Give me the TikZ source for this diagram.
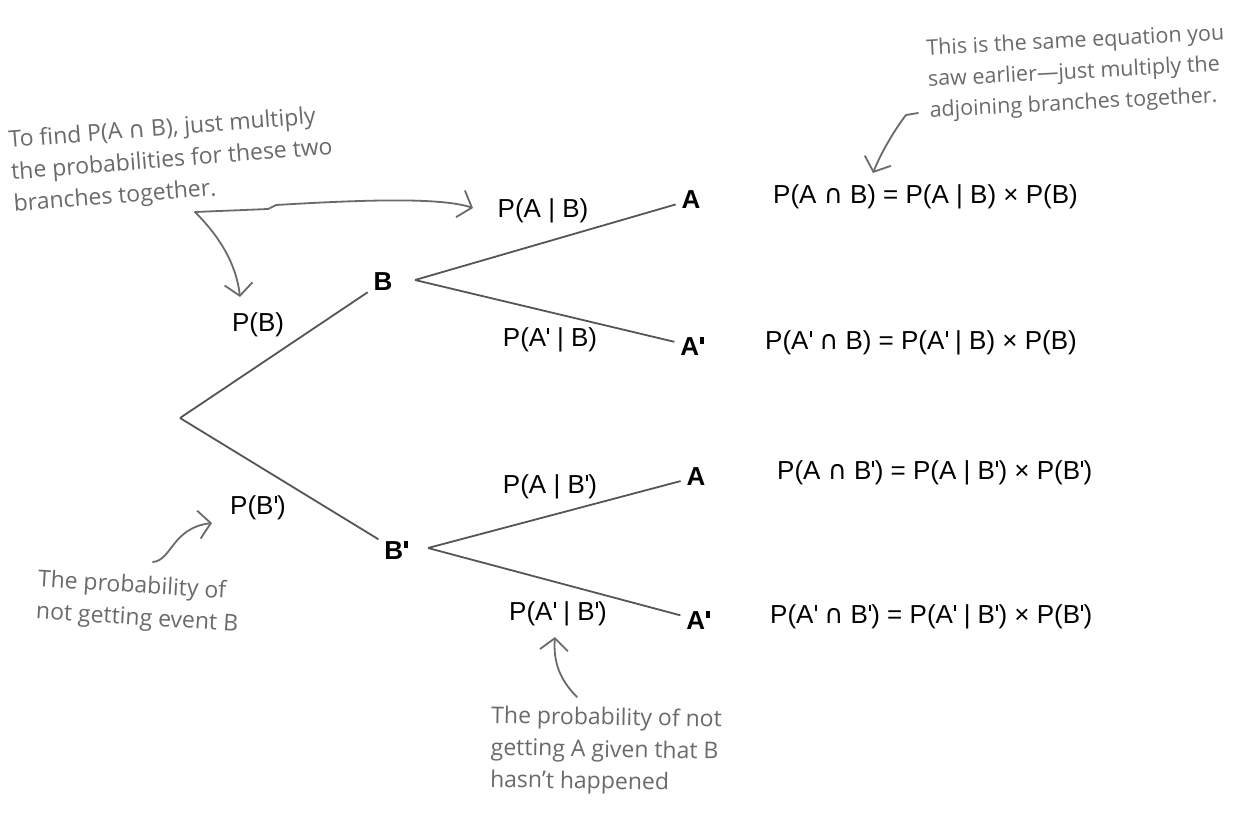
\documentclass[tikz,border=0pt]{standalone}
\usepackage{fontspec}
\setmainfont{Liberation Sans}
\newfontfamily\handfont{Open Sans}
\newfontfamily\symfont{DejaVu Sans}
\usetikzlibrary{arrows.meta}
\definecolor{treegray}{HTML}{555555}
\definecolor{notegray}{HTML}{6A6A6A}
\newcommand\pr{\kern0.04em\rule[0.47em]{0.075em}{0.25em}\kern0.02em}
\newcommand\bpr{\kern0.04em\rule[0.45em]{0.13em}{0.27em}}
\newcommand\capsym{{\symfont ∩}}
\begin{document}
\begin{tikzpicture}[x=1pt,y=-1pt,
  branch/.style={draw=treegray, line width=1.8pt},
  lab/.style={font=\fontsize{26}{30}\selectfont, inner sep=0pt},
  ev/.style={font=\fontsize{26}{30}\selectfont\bfseries, inner sep=0pt, outer sep=6pt},
  eq/.style={font=\fontsize{26}{30}\selectfont, inner sep=0pt, anchor=west},
  note/.style={font=\handfont\fontsize{23}{32}\selectfont, text=notegray, align=left, inner sep=0pt},
  noteline/.style={draw=notegray, line width=1.8pt, line cap=round, line join=round},
  barb/.style={-{Straight Barb[length=12pt,width=28pt,line width=1.8pt]}}
]
\useasboundingbox (0,0) rectangle (1245,812);

% tree nodes
\coordinate (root) at (180,418);
\node[ev] (B) at (383,282) {B};
\node[ev] (Bp) at (396,550) {B\bpr};
\coordinate (Bfork) at (415,280);
\coordinate (Bpfork) at (428,548);
\node[ev] (A1) at (691,200) {A};
\node[ev] (A1p) at (692,346) {A\bpr};
\node[ev] (A2) at (696,477) {A};
\node[ev] (A2p) at (698,620) {A\bpr};

% branches
\draw[branch] (root) -- (B);
\draw[branch] (root) -- (Bp);
\draw[branch] (Bfork) -- (A1);
\draw[branch] (Bfork) -- (A1p);
\draw[branch] (Bpfork) -- (A2);
\draw[branch] (Bpfork) -- (A2p);

% branch labels
\node[lab] (PB) at (258,325) {P(B)};
\node[lab] (PBp) at (258,508) {P(B\pr)};
\node[lab] (PAB) at (543,211) {P(A | B)};
\node[lab] (PApB) at (550,340) {P(A\pr{} | B)};
\node[lab] (PABp) at (550,487) {P(A | B\pr)};
\node[lab] (PApBp) at (558,614) {P(A\pr{} | B\pr)};

% equations
\node[eq] (E1) at (773,197) {P(A \capsym{} B) = P(A | B) × P(B)};
\node[eq] (E2) at (765,343) {P(A\pr{} \capsym{} B) = P(A\pr{} | B) × P(B)};
\node[eq] (E3) at (777,473) {P(A \capsym{} B\pr) = P(A | B\pr) × P(B\pr)};
\node[eq] (E4) at (770,617) {P(A\pr{} \capsym{} B\pr) = P(A\pr{} | B\pr) × P(B\pr)};

% annotations
\node[note, rotate=4.5] (N1) at (172,161) {To find P(A \capsym{} B), just multiply\\the probabilities for these two\\branches together.};
\node[note, font=\handfont\fontsize{21.5}{31}\selectfont, rotate=3] (N2) at (1077,73) {This is the same equation you\\saw earlier—just multiply the\\adjoining branches together.};
\node[note, rotate=-3.5] (N3) at (138,603) {The probability of\\not getting event B};
\node[note, rotate=-1] (N4) at (606,751) {The probability of not\\getting A given that B\\hasn’t happened};

% annotation arrows
\coordinate (n1s) at (195,212);
\coordinate (n1a) at (473,208);
\coordinate (n1b) at (240,297);
\draw[noteline, barb] (n1s) -- (268,209) -- (276,205) .. controls (360,200) and (440,197) .. (n1a);
\draw[noteline, barb] (n1s) .. controls (218,235) and (236,262) .. (n1b);

\coordinate (n2s) at (918,113);
\coordinate (n2a) at (873,173);
\draw[noteline, barb] (n2s) -- (906,115) .. controls (898,125) and (882,150) .. (n2a);

\coordinate (n3s) at (153,562);
\coordinate (n3a) at (212,523);
\draw[noteline, barb] (n3s) .. controls (172,560) and (172,528) .. (n3a);

\coordinate (n4s) at (577,697);
\coordinate (n4a) at (555,637);
\draw[noteline, barb] (n4s) .. controls (560,680) and (553,662) .. (n4a);
\end{tikzpicture}
\end{document}
